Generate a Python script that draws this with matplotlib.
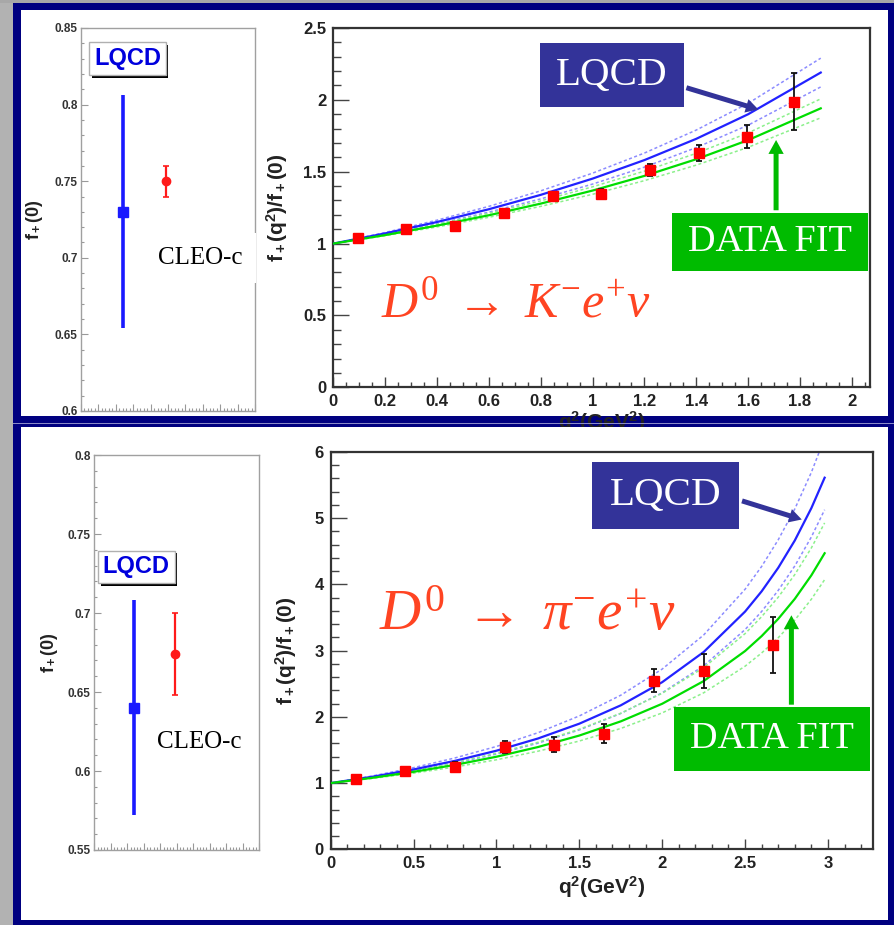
import numpy as np
import matplotlib
matplotlib.use('Agg')
import matplotlib.pyplot as plt
import matplotlib.patheffects as pe
from matplotlib.patches import Rectangle, FancyArrowPatch
from matplotlib.ticker import MultipleLocator, FuncFormatter

plt.rcParams['font.family'] = 'Liberation Sans'
plt.rcParams['font.weight'] = 'bold'
plt.rcParams['mathtext.fontset'] = 'custom'
plt.rcParams['mathtext.rm'] = 'Liberation Sans:bold'
plt.rcParams['mathtext.bf'] = 'Liberation Sans:bold'
# serif italic / upright for the decay formulas
plt.rcParams['mathtext.it'] = 'Liberation Serif:style=italic:weight=normal'
plt.rcParams['mathtext.sf'] = 'Liberation Serif:style=normal:weight=normal'

# f+(0): LQCD vs CLEO-c
f0_pos = [0.24, 0.49]
f0_k = [0.730, 0.750]
f0_k_err = [0.076, 0.010]
f0_pi = [0.640, 0.674]
f0_pi_err = [0.068, 0.026]

# D0 -> K- e+ nu : measured f+(q2)/f+(0)
k_q2 = [0.094, 0.282, 0.470, 0.658, 0.846, 1.034, 1.222, 1.410, 1.594, 1.778]
k_ratio = [1.042, 1.098, 1.121, 1.214, 1.330, 1.344, 1.512, 1.628, 1.744, 1.988]
k_err = [0.02, 0.02, 0.02, 0.02, 0.025, 0.035, 0.045, 0.055, 0.08, 0.20]

# curves for K
k_x = [0, 0.2, 0.4, 0.6, 0.8, 1.0, 1.2, 1.4, 1.6, 1.88]
k_lqcd = [1, 1.071, 1.150, 1.239, 1.339, 1.452, 1.581, 1.729, 1.900, 2.190]
k_lqcd_hi = [1, 1.077, 1.163, 1.259, 1.367, 1.490, 1.630, 1.790, 1.976, 2.290]
k_lqcd_lo = [1, 1.065, 1.137, 1.219, 1.311, 1.414, 1.532, 1.668, 1.824, 2.090]
k_fit = [1, 1.059, 1.125, 1.197, 1.278, 1.369, 1.471, 1.587, 1.720, 1.941]
k_fit_hi = [1, 1.063, 1.134, 1.211, 1.297, 1.395, 1.504, 1.628, 1.770, 2.007]
k_fit_lo = [1, 1.055, 1.116, 1.183, 1.259, 1.343, 1.438, 1.546, 1.670, 1.875]

# D0 -> pi- e+ nu : measured f+(q2)/f+(0)
pi_q2 = [0.15, 0.45, 0.75, 1.05, 1.35, 1.65, 1.95, 2.25, 2.67]
pi_ratio = [1.069, 1.180, 1.240, 1.546, 1.581, 1.747, 2.546, 2.690, 3.090]
pi_err = [0.05, 0.05, 0.08, 0.095, 0.11, 0.14, 0.17, 0.26, 0.42]

# curves for pi
pi_x = [0, 0.25, 0.5, 0.75, 1.0, 1.25, 1.5, 1.75, 2.0, 2.25, 2.5, 2.6, 2.7, 2.8, 2.9, 2.98]
pi_lqcd = [1, 1.095, 1.206, 1.336, 1.489, 1.673, 1.897, 2.174, 2.524, 2.979, 3.590,
           3.896, 4.251, 4.664, 5.153, 5.612]
pi_lqcd_hi = [1, 1.107, 1.233, 1.380, 1.553, 1.760, 2.014, 2.327, 2.722, 3.236, 3.927,
              4.272, 4.674, 5.140, 5.693, 6.212]
pi_lqcd_lo = [1, 1.085, 1.184, 1.301, 1.438, 1.602, 1.803, 2.051, 2.364, 2.771, 3.318,
              3.592, 3.910, 4.279, 4.717, 5.128]
pi_fit = [1, 1.079, 1.170, 1.275, 1.398, 1.544, 1.718, 1.932, 2.198, 2.540, 2.994,
          3.220, 3.480, 3.782, 4.138, 4.471]
pi_fit_hi = [1, 1.089, 1.192, 1.311, 1.451, 1.616, 1.813, 2.055, 2.356, 2.743, 3.257,
             3.513, 3.807, 4.149, 4.552, 4.929]
pi_fit_lo = [1, 1.070, 1.150, 1.243, 1.352, 1.481, 1.635, 1.825, 2.060, 2.363, 2.765,
             2.965, 3.195, 3.462, 3.777, 4.072]

NAVY = '#000080'
BOXBLUE = '#333399'
BOXGREEN = '#00bb00'
W, H = 895, 925


def px(x0, y0, x1, y1):
    return [x0 / W, 1 - y1 / H, (x1 - x0) / W, (y1 - y0) / H]


def panel(x0, y0, x1, y1, color, z):
    r = Rectangle((x0 / W, 1 - y1 / H), (x1 - x0) / W, (y1 - y0) / H,
                  transform=fig.transFigure, fc=color, ec='none', zorder=z)
    fig.add_artist(r)


fmt = FuncFormatter(lambda v, p: '%g' % round(v, 3))

fig = plt.figure(figsize=(8.95, 9.25), dpi=100, facecolor=NAVY)
panel(0, 0, 13, 925, '#b2b2b2', -3)
panel(0, 0, 895, 3, '#a8a8a8', -3)
panel(21, 10, 888, 416, 'white', -2)
panel(13, 422.5, 895, 423.5, '#8a8ac8', 1)
panel(21, 427, 888, 920, 'white', 1)


def style_f0(ax, ylo, yhi):
    ax.set_xlim(0, 1)
    ax.set_ylim(ylo, yhi)
    for s in ax.spines.values():
        s.set_color('#a0a0a0')
        s.set_linewidth(1)
    ax.xaxis.set_major_locator(MultipleLocator(0.1))
    ax.xaxis.set_minor_locator(MultipleLocator(0.02))
    ax.yaxis.set_major_locator(MultipleLocator(0.05))
    ax.yaxis.set_minor_locator(MultipleLocator(0.01))
    ax.yaxis.set_major_formatter(fmt)
    ax.tick_params(which='both', direction='in', color='#999999', labelcolor='#333333',
                   top=False, right=False, labelsize=8.5, pad=2.5, width=0.8)
    ax.tick_params(which='major', length=5)
    ax.tick_params(which='minor', length=2.5)
    ax.tick_params(axis='x', labelbottom=False)


def style_ratio(ax, xmax, ymax, xmaj, xmin, ymaj, ymin):
    ax.set_xlim(0, xmax)
    ax.set_ylim(0, ymax)
    for s in ax.spines.values():
        s.set_color('#333333')
        s.set_linewidth(1.6)
    ax.xaxis.set_major_locator(MultipleLocator(xmaj))
    ax.xaxis.set_minor_locator(MultipleLocator(xmin))
    ax.yaxis.set_major_locator(MultipleLocator(ymaj))
    ax.yaxis.set_minor_locator(MultipleLocator(ymin))
    ax.xaxis.set_major_formatter(fmt)
    ax.yaxis.set_major_formatter(fmt)
    ax.tick_params(which='both', direction='in', color='#444444', labelcolor='#222222',
                   top=False, right=False, labelsize=12, pad=5, width=1)
    ax.tick_params(axis='x', which='major', length=7.5)
    ax.tick_params(axis='x', which='minor', length=3.7)
    ax.tick_params(axis='y', which='major', length=11.5)
    ax.tick_params(axis='y', which='minor', length=5.8)


def f0_plot(ax, vals, errs, lq_xy, cleo_xy):
    ax.errorbar(f0_pos[0], vals[0], yerr=errs[0], fmt='s', color='#1a1aff', ms=7,
                elinewidth=2.6, capsize=0, zorder=4)
    ax.errorbar(f0_pos[1], vals[1], yerr=errs[1], fmt='o', color='#ff1a1a', ms=6,
                elinewidth=1.6, capsize=2, capthick=1.2, zorder=4)
    t = ax.text(lq_xy[0], lq_xy[1], 'LQCD', transform=ax.transAxes, ha='center',
                va='center', size=17, color='#0000dd', zorder=6,
                bbox=dict(boxstyle='square,pad=0.2', fc='white', ec='#b0b0b0', lw=1))
    t.get_bbox_patch().set_path_effects(
        [pe.SimplePatchShadow(offset=(2, -2), shadow_rgbFace='black', alpha=1.0),
         pe.Normal()])
    ax.text(cleo_xy[0], cleo_xy[1], 'CLEO-c', transform=ax.transAxes, ha='center',
            va='center', size=18, family='Liberation Serif', weight='normal',
            color='black', zorder=6,
            bbox=dict(boxstyle='square,pad=0.55', fc='white', ec='none'))
    ax.text(-0.27, 0.5, 'f$_+$(0)', transform=ax.transAxes, rotation=90,
            ha='center', va='center', size=13, color='#222222')


def ratio_plot(ax, q2, val, err, x, lq, lq_hi, lq_lo, fit, fit_hi, fit_lo,
               lq_box, lq_arrow, fit_box, fit_arrow, decay, decay_xy, decay_size):
    dash = (0, (2, 1.6))
    ax.plot(x, lq_hi, color='#8c8cff', lw=1.1, ls=dash, zorder=2)
    ax.plot(x, lq_lo, color='#8c8cff', lw=1.1, ls=dash, zorder=2)
    ax.plot(x, fit_hi, color='#8cf08c', lw=1.1, ls=dash, zorder=2)
    ax.plot(x, fit_lo, color='#8cf08c', lw=1.1, ls=dash, zorder=2)
    ax.plot(x, lq, color='#2222ff', lw=1.6, zorder=3)
    ax.plot(x, fit, color='#00dd00', lw=1.6, zorder=3)
    ax.errorbar(q2, val, yerr=err, fmt='s', color='#ff0000', ms=6.5, ecolor='#111111',
                elinewidth=1.3, capsize=2.2, capthick=1.3, zorder=5)

    bx, by, bw, bh = lq_box
    ax.add_patch(Rectangle((bx, by), bw, bh, transform=ax.transAxes, fc=BOXBLUE,
                           ec='none', zorder=6))
    ax.text(bx + bw / 2, by + bh / 2, 'LQCD', transform=ax.transAxes, ha='center',
            va='center', size=29.5, family='Liberation Serif', weight='normal',
            color='white', zorder=7)
    ax.add_patch(FancyArrowPatch(lq_arrow[0], lq_arrow[1], transform=ax.transAxes,
                                 arrowstyle='simple,head_width=1.0,head_length=0.9,tail_width=0.36',
                                 mutation_scale=10, fc=BOXBLUE, ec='none', zorder=6))

    bx, by, bw, bh = fit_box
    ax.add_patch(Rectangle((bx, by), bw, bh, transform=ax.transAxes, fc=BOXGREEN,
                           ec='none', zorder=6))
    ax.text(bx + bw / 2, by + bh / 2, 'DATA FIT', transform=ax.transAxes, ha='center',
            va='center', size=27.5, family='Liberation Serif', weight='normal',
            color='white', zorder=7)
    ax.add_patch(FancyArrowPatch(fit_arrow[0], fit_arrow[1], transform=ax.transAxes,
                                 arrowstyle='simple,head_width=1.1,head_length=1.0,tail_width=0.36',
                                 mutation_scale=10, fc=BOXGREEN, ec='none', zorder=6))

    ax.text(decay_xy[0], decay_xy[1], decay, transform=ax.transAxes, ha='center',
            va='center', size=decay_size, color='#ff4422', weight='normal', zorder=4)


# top row: K e nu
ax_k0 = fig.add_axes(px(81, 28, 255, 411))
style_f0(ax_k0, 0.6, 0.85)
f0_plot(ax_k0, f0_k, f0_k_err, (0.267, 0.920), (0.684, 0.40))

ax_k = fig.add_axes(px(333.3, 28, 870, 387.3))
style_ratio(ax_k, 2.07, 2.5, 0.2, 0.05, 0.5, 0.1)
ratio_plot(ax_k, k_q2, k_ratio, k_err, k_x, k_lqcd, k_lqcd_hi, k_lqcd_lo,
           k_fit, k_fit_hi, k_fit_lo,
           (0.385, 0.780, 0.268, 0.178), ((0.653, 0.836), (0.797, 0.771)),
           (0.632, 0.324, 0.364, 0.161), ((0.825, 0.485), (0.825, 0.696)),
           r'$D^{\mathsf{0}}\;\mathsf{\rightarrow}\;K^{\mathsf{-}}e^{\mathsf{+}}\nu$',
           (0.340, 0.232), 36)
ax_k.text(-0.105, 0.5, 'f$_+$(q$^2$)/f$_+$(0)', transform=ax_k.transAxes, rotation=90,
          ha='center', va='center', size=15, color='#222222')
ax_k.text(0.5, -0.097, 'q$^2$(GeV$^2$)', transform=ax_k.transAxes, ha='center',
          va='center', size=15, color='#222222')

# bottom row: pi e nu
ax_p0 = fig.add_axes(px(94.3, 455, 259.3, 850))
style_f0(ax_p0, 0.55, 0.8)
f0_plot(ax_p0, f0_pi, f0_pi_err, (0.255, 0.717), (0.635, 0.273))
ax_p0.set_zorder(2)

ax_p = fig.add_axes(px(330.7, 452, 872.7, 849.3))
style_ratio(ax_p, 3.27, 6, 0.5, 0.1, 1, 0.2)
ratio_plot(ax_p, pi_q2, pi_ratio, pi_err, pi_x, pi_lqcd, pi_lqcd_hi, pi_lqcd_lo,
           pi_fit, pi_fit_hi, pi_fit_lo,
           (0.483, 0.805, 0.271, 0.171), ((0.754, 0.879), (0.874, 0.828)),
           (0.634, 0.198, 0.361, 0.159), ((0.850, 0.357), (0.850, 0.596)),
           r'$D^{\mathsf{0}}\;\mathsf{\rightarrow}\;\pi^{\mathsf{-}}e^{\mathsf{+}}\nu$',
           (0.363, 0.590), 41)
ax_p.text(-0.081, 0.5, 'f$_+$(q$^2$)/f$_+$(0)', transform=ax_p.transAxes, rotation=90,
          ha='center', va='center', size=15, color='#222222')
ax_p.text(0.5, -0.095, 'q$^2$(GeV$^2$)', transform=ax_p.transAxes, ha='center',
          va='center', size=15, color='#222222')
ax_p.set_zorder(2)

fig.savefig('out.png', dpi=100, facecolor=NAVY)
